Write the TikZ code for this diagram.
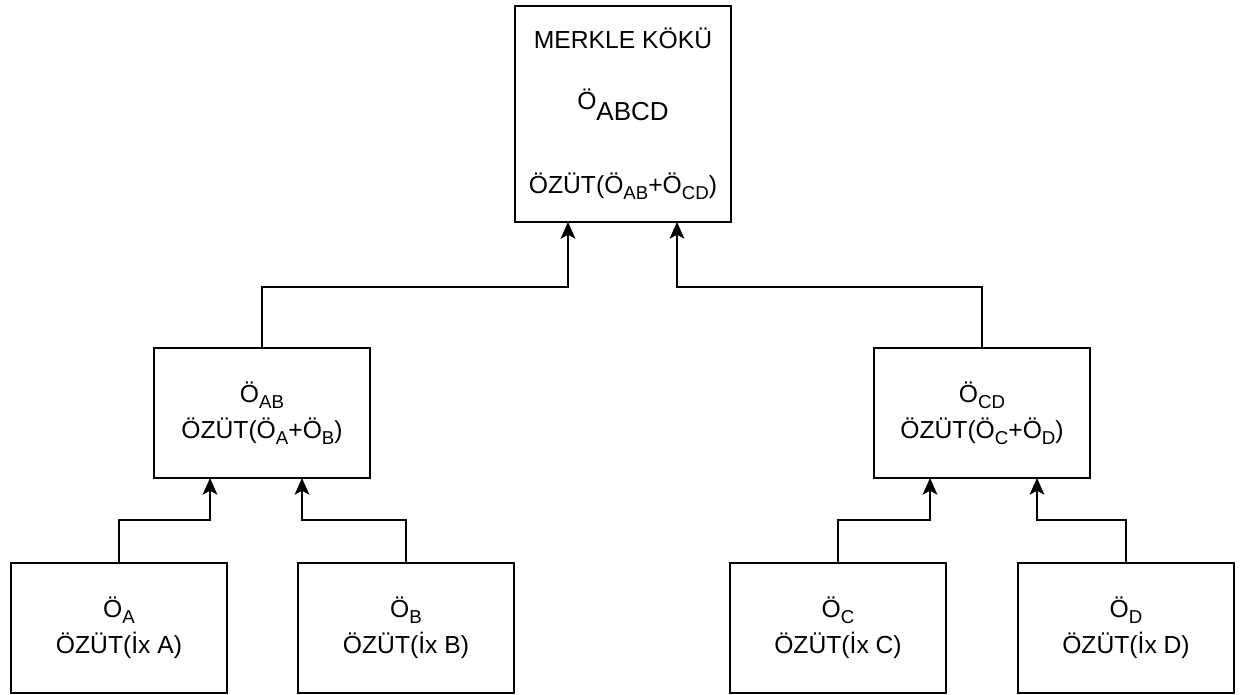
\documentclass[tikz,border=0pt]{standalone}
\usepackage{fontspec}
\setmainfont{Liberation Sans}
\usepackage{tikz}
\usetikzlibrary{arrows.meta,calc}

\newcommand{\lw}[1]{\raisebox{-4.5pt}{\fontsize{14}{14}\selectfont #1}}
\newcommand{\lwbig}[1]{\raisebox{-8pt}{\fontsize{19.5}{19.5}\selectfont #1}}

\tikzset{
    hashbox/.style={draw, line width=1.5pt, inner sep=0pt, outer sep=0pt, align=center,
        font=\fontsize{18.5}{27}\selectfont},
    rootbox/.style={hashbox, minimum width=162pt, minimum height=162pt},
    midbox/.style={hashbox, minimum width=162pt, minimum height=97.5pt},
    leafbox/.style={hashbox, minimum width=162pt, minimum height=97.5pt},
    up/.style={line width=1.5pt, -{Stealth[length=12.5pt,width=11pt,inset=3pt]}}
}

\begin{document}
\begin{tikzpicture}[x=0.75pt,y=0.75pt,yscale=-1,xscale=1]

    \useasboundingbox (0,0) rectangle (1241,695);

    % Root
    \node [rootbox] (root) at (623,114) {MERKLE KÖKÜ\\[19pt]
        Ö\lwbig{ABCD}\\[36pt]
        ÖZÜT(Ö\lw{AB}+Ö\lw{CD})};

    % Middle level
    \node [midbox] (ab) at (262,413) {Ö\lw{AB}\\ÖZÜT(Ö\lw{A}+Ö\lw{B})};
    \node [midbox] (cd) at (982,413) {Ö\lw{CD}\\ÖZÜT(Ö\lw{C}+Ö\lw{D})};

    % Leaves
    \node [leafbox] (la) at (119,628) {Ö\lw{A}\\ÖZÜT(İx A)};
    \node [leafbox] (lb) at (406,628) {Ö\lw{B}\\ÖZÜT(İx B)};
    \node [leafbox] (lc) at (838,628) {Ö\lw{C}\\ÖZÜT(İx C)};
    \node [leafbox] (ld) at (1126,628) {Ö\lw{D}\\ÖZÜT(İx D)};

    % Leaves to middle
    \draw [up] (la.north) -- ++(0,-43) -| ($(ab.south)+(-52,0)$);
    \draw [up] (lb.north) -- ++(0,-43) -| ($(ab.south)+(40,0)$);
    \draw [up] (lc.north) -- ++(0,-43) -| ($(cd.south)+(-52,0)$);
    \draw [up] (ld.north) -- ++(0,-43) -| ($(cd.south)+(55,0)$);

    % Middle to root
    \draw [up] (ab.north) -- ++(0,-61) -| ($(root.south)+(-55,0)$);
    \draw [up] (cd.north) -- ++(0,-61) -| ($(root.south)+(54,0)$);

\end{tikzpicture}
\end{document}
